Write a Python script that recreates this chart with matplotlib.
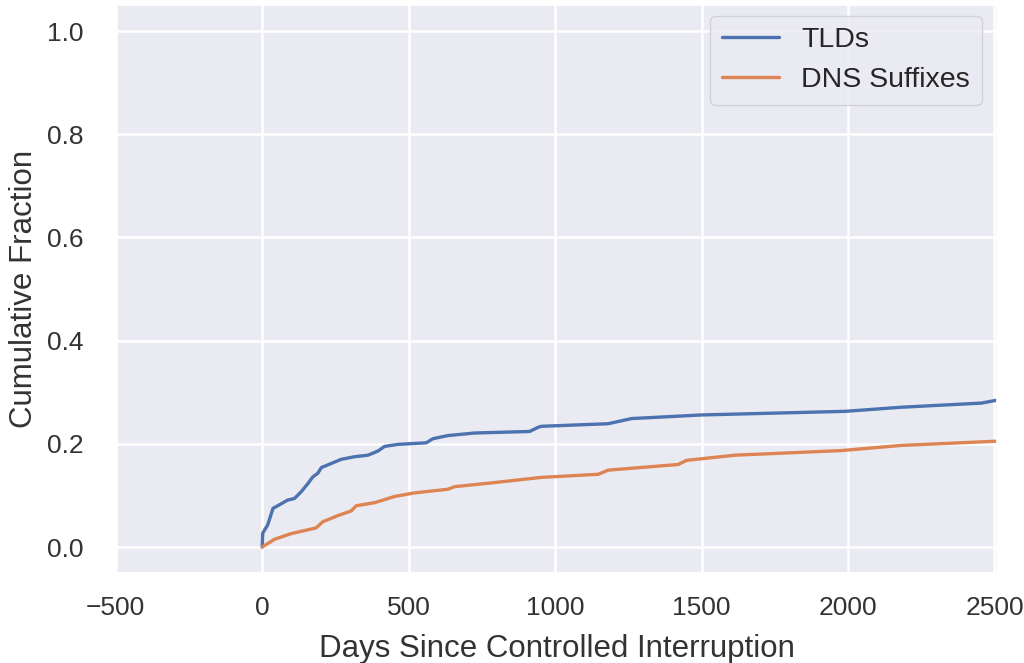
import numpy as np
import matplotlib
matplotlib.use("Agg")
import matplotlib.pyplot as plt
import seaborn as sns

# cumulative curves
tld_days = [0, 2, 19, 37, 53, 87, 110, 133, 156, 173, 190, 202, 236, 270, 315, 361,
            395, 418, 464, 560, 583, 634, 725, 913, 942, 953, 1181, 1261, 1500, 1990,
            2183, 2456, 2502, 2515]
tld_frac = [0.0, 0.027, 0.043, 0.075, 0.080, 0.091, 0.094, 0.107, 0.123, 0.136, 0.143,
            0.154, 0.162, 0.170, 0.175, 0.178, 0.186, 0.195, 0.199, 0.202, 0.210, 0.216,
            0.221, 0.224, 0.232, 0.234, 0.239, 0.249, 0.256, 0.263, 0.271, 0.279, 0.284,
            0.285]

dns_days = [0, 42, 99, 184, 207, 259, 304, 321, 384, 452, 521, 634, 657, 794, 953,
            1147, 1181, 1420, 1449, 1614, 1978, 2183, 2502, 2515]
dns_frac = [0.0, 0.015, 0.026, 0.037, 0.049, 0.061, 0.070, 0.080, 0.086, 0.098, 0.105,
            0.112, 0.117, 0.125, 0.135, 0.141, 0.149, 0.160, 0.168, 0.178, 0.187, 0.197,
            0.205, 0.205]

sns.set_theme(style="darkgrid")
plt.rcParams['font.family'] = ['Liberation Sans', 'DejaVu Sans']

fig, ax = plt.subplots(figsize=(10.24, 6.63), dpi=100)
fig.subplots_adjust(left=0.113, right=0.974, top=0.992, bottom=0.136)

ax.plot(tld_days, tld_frac, color="#4C72B0", lw=2.4, label="TLDs")
ax.plot(dns_days, dns_frac, color="#DD8452", lw=2.4, label="DNS Suffixes")

ax.set_xlim(-500, 2510)
ax.set_ylim(-0.05, 1.05)
ax.set_xticks([-500, 0, 500, 1000, 1500, 2000, 2500])
ax.set_yticks([0.0, 0.2, 0.4, 0.6, 0.8, 1.0])
ax.grid(linewidth=1.8)
ax.tick_params(axis="x", labelsize=19, colors="#333333", length=0, pad=17)
ax.tick_params(axis="y", labelsize=19, colors="#333333", length=0, pad=23)
ax.set_xlabel("Days Since Controlled Interruption", fontsize=22.5, color="#333333", labelpad=10)
ax.set_ylabel("Cumulative Fraction", fontsize=22.5, color="#333333", labelpad=6)
ax.legend(loc="upper right", fontsize=20.5, bbox_to_anchor=(0.982, 0.982), borderaxespad=0)

fig.savefig("out.png")
